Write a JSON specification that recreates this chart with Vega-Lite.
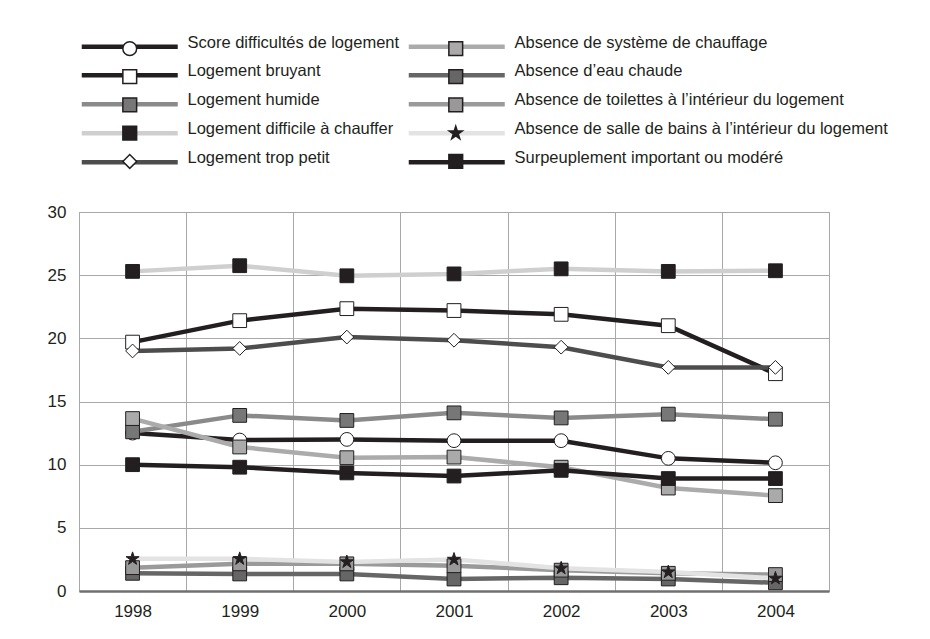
{
  "$schema": "https://vega.github.io/schema/vega-lite/v6.json",
  "width": 750,
  "height": 379,
  "autosize": {"type": "none"},
  "padding": {"left": 79, "top": 212, "right": 101, "bottom": 48},
  "background": "white",
  "config": {
    "font": "Liberation Sans",
    "view": {"stroke": "#a8a8a8", "strokeWidth": 1}
  },
  "data": {
    "values": [
      {"serie": "Score difficultés de logement", "annee": "1998", "valeur": 12.5},
      {"serie": "Score difficultés de logement", "annee": "1999", "valeur": 11.95},
      {"serie": "Score difficultés de logement", "annee": "2000", "valeur": 12.0},
      {"serie": "Score difficultés de logement", "annee": "2001", "valeur": 11.9},
      {"serie": "Score difficultés de logement", "annee": "2002", "valeur": 11.9},
      {"serie": "Score difficultés de logement", "annee": "2003", "valeur": 10.5},
      {"serie": "Score difficultés de logement", "annee": "2004", "valeur": 10.15},
      {"serie": "Logement bruyant", "annee": "1998", "valeur": 19.7},
      {"serie": "Logement bruyant", "annee": "1999", "valeur": 21.4},
      {"serie": "Logement bruyant", "annee": "2000", "valeur": 22.35},
      {"serie": "Logement bruyant", "annee": "2001", "valeur": 22.2},
      {"serie": "Logement bruyant", "annee": "2002", "valeur": 21.9},
      {"serie": "Logement bruyant", "annee": "2003", "valeur": 21.0},
      {"serie": "Logement bruyant", "annee": "2004", "valeur": 17.2},
      {"serie": "Logement humide", "annee": "1998", "valeur": 12.6},
      {"serie": "Logement humide", "annee": "1999", "valeur": 13.9},
      {"serie": "Logement humide", "annee": "2000", "valeur": 13.5},
      {"serie": "Logement humide", "annee": "2001", "valeur": 14.1},
      {"serie": "Logement humide", "annee": "2002", "valeur": 13.7},
      {"serie": "Logement humide", "annee": "2003", "valeur": 14.0},
      {"serie": "Logement humide", "annee": "2004", "valeur": 13.6},
      {"serie": "Logement difficile à chauffer", "annee": "1998", "valeur": 25.3},
      {"serie": "Logement difficile à chauffer", "annee": "1999", "valeur": 25.75},
      {"serie": "Logement difficile à chauffer", "annee": "2000", "valeur": 24.95},
      {"serie": "Logement difficile à chauffer", "annee": "2001", "valeur": 25.1},
      {"serie": "Logement difficile à chauffer", "annee": "2002", "valeur": 25.5},
      {"serie": "Logement difficile à chauffer", "annee": "2003", "valeur": 25.3},
      {"serie": "Logement difficile à chauffer", "annee": "2004", "valeur": 25.35},
      {"serie": "Logement trop petit", "annee": "1998", "valeur": 19.0},
      {"serie": "Logement trop petit", "annee": "1999", "valeur": 19.2},
      {"serie": "Logement trop petit", "annee": "2000", "valeur": 20.1},
      {"serie": "Logement trop petit", "annee": "2001", "valeur": 19.85},
      {"serie": "Logement trop petit", "annee": "2002", "valeur": 19.3},
      {"serie": "Logement trop petit", "annee": "2003", "valeur": 17.7},
      {"serie": "Logement trop petit", "annee": "2004", "valeur": 17.7},
      {"serie": "Absence de système de chauffage", "annee": "1998", "valeur": 13.65},
      {"serie": "Absence de système de chauffage", "annee": "1999", "valeur": 11.4},
      {"serie": "Absence de système de chauffage", "annee": "2000", "valeur": 10.55},
      {"serie": "Absence de système de chauffage", "annee": "2001", "valeur": 10.6},
      {"serie": "Absence de système de chauffage", "annee": "2002", "valeur": 9.8},
      {"serie": "Absence de système de chauffage", "annee": "2003", "valeur": 8.15},
      {"serie": "Absence de système de chauffage", "annee": "2004", "valeur": 7.55},
      {"serie": "Absence d’eau chaude", "annee": "1998", "valeur": 1.4},
      {"serie": "Absence d’eau chaude", "annee": "1999", "valeur": 1.35},
      {"serie": "Absence d’eau chaude", "annee": "2000", "valeur": 1.35},
      {"serie": "Absence d’eau chaude", "annee": "2001", "valeur": 0.95},
      {"serie": "Absence d’eau chaude", "annee": "2002", "valeur": 1.05},
      {"serie": "Absence d’eau chaude", "annee": "2003", "valeur": 0.95},
      {"serie": "Absence d’eau chaude", "annee": "2004", "valeur": 0.65},
      {"serie": "Absence de toilettes à l’intérieur du logement", "annee": "1998", "valeur": 1.85},
      {"serie": "Absence de toilettes à l’intérieur du logement", "annee": "1999", "valeur": 2.15},
      {"serie": "Absence de toilettes à l’intérieur du logement", "annee": "2000", "valeur": 2.15},
      {"serie": "Absence de toilettes à l’intérieur du logement", "annee": "2001", "valeur": 2.0},
      {"serie": "Absence de toilettes à l’intérieur du logement", "annee": "2002", "valeur": 1.65},
      {"serie": "Absence de toilettes à l’intérieur du logement", "annee": "2003", "valeur": 1.4},
      {"serie": "Absence de toilettes à l’intérieur du logement", "annee": "2004", "valeur": 1.3},
      {"serie": "Absence de salle de bains à l’intérieur du logement", "annee": "1998", "valeur": 2.55},
      {"serie": "Absence de salle de bains à l’intérieur du logement", "annee": "1999", "valeur": 2.55},
      {"serie": "Absence de salle de bains à l’intérieur du logement", "annee": "2000", "valeur": 2.3},
      {"serie": "Absence de salle de bains à l’intérieur du logement", "annee": "2001", "valeur": 2.5},
      {"serie": "Absence de salle de bains à l’intérieur du logement", "annee": "2002", "valeur": 1.8},
      {"serie": "Absence de salle de bains à l’intérieur du logement", "annee": "2003", "valeur": 1.5},
      {"serie": "Absence de salle de bains à l’intérieur du logement", "annee": "2004", "valeur": 1.0},
      {"serie": "Surpeuplement important ou modéré", "annee": "1998", "valeur": 10.0},
      {"serie": "Surpeuplement important ou modéré", "annee": "1999", "valeur": 9.8},
      {"serie": "Surpeuplement important ou modéré", "annee": "2000", "valeur": 9.35},
      {"serie": "Surpeuplement important ou modéré", "annee": "2001", "valeur": 9.1},
      {"serie": "Surpeuplement important ou modéré", "annee": "2002", "valeur": 9.55},
      {"serie": "Surpeuplement important ou modéré", "annee": "2003", "valeur": 8.9},
      {"serie": "Surpeuplement important ou modéré", "annee": "2004", "valeur": 8.9}
    ]
  },
  "encoding": {
    "x": {
      "field": "annee", "type": "ordinal",
      "scale": {"type": "band", "paddingInner": 0, "paddingOuter": 0},
      "axis": {
        "title": null, "labelAngle": 0, "ticks": false, "tickSize": 0, "labelPadding": 12,
        "labelFontSize": 17, "labelColor": "#231f20", "grid": true, "gridColor": "#a8a8a8",
        "tickBand": "extent", "domainColor": "#707070", "domainWidth": 2.5
      }
    },
    "y": {
      "field": "valeur", "type": "quantitative",
      "scale": {"domain": [0, 30], "nice": false},
      "axis": {
        "title": null, "values": [0, 5, 10, 15, 20, 25, 30], "ticks": false, "tickSize": 0,
        "labelPadding": 13, "labelFontSize": 17, "labelColor": "#231f20", "domain": false,
        "gridColor": "#a8a8a8"
      }
    }
  },
  "layer": [
    {
      "mark": {"type": "line", "strokeWidth": 4.5},
      "encoding": {
        "stroke": {
          "field": "serie", "type": "nominal",
          "scale": {
            "domain": ["Score difficultés de logement", "Logement bruyant", "Logement humide", "Logement difficile à chauffer", "Logement trop petit", "Absence de système de chauffage", "Absence d’eau chaude", "Absence de toilettes à l’intérieur du logement", "Absence de salle de bains à l’intérieur du logement", "Surpeuplement important ou modéré"],
            "range": ["#231f20", "#231f20", "#8a8a8a", "#cfcfcf", "#4d4d4d", "#ababab", "#666666", "#9a9a9a", "#e3e3e3", "#231f20"]
          },
          "legend": {
            "title": null, "orient": "none", "legendX": -5.5, "legendY": -174, "columns": 2,
            "symbolType": "M-16,0H16", "symbolSize": 36, "symbolStrokeWidth": 4.5, "symbolOffset": 48,
            "labelOffset": 49.5, "labelFontSize": 16.5, "labelColor": "#231f20", "labelLimit": 0,
            "rowPadding": 7.0, "columnPadding": 0, "zindex": 1, "padding": 0,
            "encode": {"labels": {"update": {"dy": {"value": -4}}}}
          }
        }
      }
    },
    {
      "mark": {"type": "point", "filled": true, "size": 190, "stroke": "#231f20", "strokeWidth": 1, "opacity": 1},
      "encoding": {
        "shape": {
          "field": "serie", "type": "nominal", "sort": null,
          "scale": {"range": ["circle", "square", "square", "square", "diamond", "square", "square", "square", "M0,-1L0.2245,-0.309L0.951,-0.309L0.363,0.118L0.588,0.809L0,0.382L-0.588,0.809L-0.363,0.118L-0.951,-0.309L-0.2245,-0.309Z", "square"]},
          "legend": {
            "title": null, "orient": "none", "legendX": -5.5, "legendY": -172, "columns": 2,
            "symbolSize": 190, "symbolOffset": 48,
            "labelOffset": 49.5, "labelOpacity": 0, "labelFontSize": 16.5, "labelLimit": 0,
            "rowPadding": 7.3, "columnPadding": 0, "zindex": 2, "padding": 0,
            "encode": {"symbols": {"update": {"fill": {"scale": "fill", "field": "value"}, "stroke": {"value": "#231f20"}, "strokeWidth": {"value": 1}, "opacity": {"value": 1}}}}
          }
        },
        "fill": {
          "field": "serie", "type": "nominal", "sort": null,
          "scale": {"range": ["#ffffff", "#ffffff", "#777777", "#231f20", "#ffffff", "#aaaaaa", "#666666", "#999999", "#231f20", "#231f20"]},
          "legend": null
        }
      }
    }
  ]
}
